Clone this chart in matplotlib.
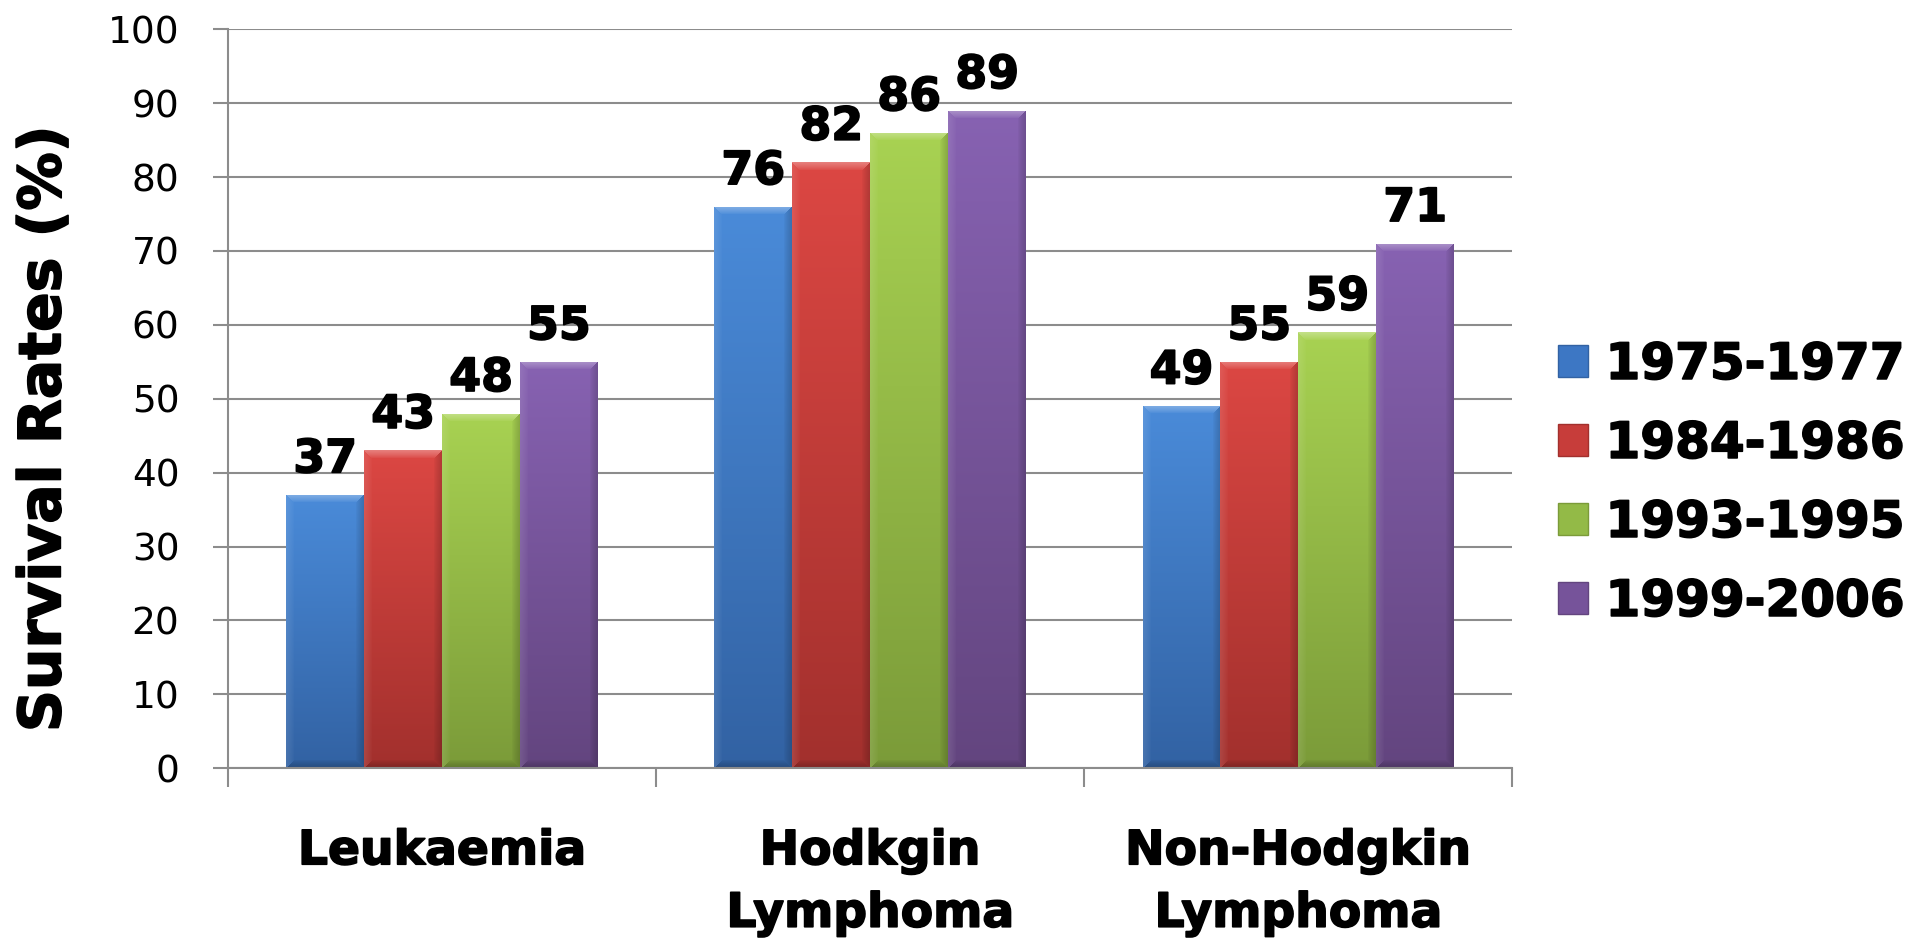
import numpy as np
import matplotlib
matplotlib.use("Agg")
import matplotlib.pyplot as plt
import matplotlib.patheffects as pe
from matplotlib.patches import Patch
from matplotlib.colors import to_rgb

# ---- data -------------------------------------------------------------
categories = ["Leukaemia", "Hodkgin\nLymphoma", "Non-Hodgkin\nLymphoma"]
periods = ["1975-1977", "1984-1986", "1993-1995", "1999-2006"]
rate_1975_1977 = [37, 76, 49]
rate_1984_1986 = [43, 82, 55]
rate_1993_1995 = [48, 86, 59]
rate_1999_2006 = [55, 89, 71]
y_ticks = [0, 10, 20, 30, 40, 50, 60, 70, 80, 90, 100]

series = [rate_1975_1977, rate_1984_1986, rate_1993_1995, rate_1999_2006]

# ---- style ------------------------------------------------------------
top_colors = ["#4a8bd9", "#dc4743", "#a8d252", "#8762b2"]
bottom_colors = ["#3262a3", "#a2302d", "#7b9b39", "#63457f"]
mid_colors = ["#3d77c4", "#c73d3a", "#93ba47", "#76539a"]
grid_color = "#8c8c8c"
heavy = [pe.withStroke(linewidth=1.2, foreground="black")]

plt.rcParams["font.family"] = ["DejaVu Sans"]

fig = plt.figure(figsize=(19.07, 9.46), dpi=100)
ax = fig.add_axes([0.1196, 0.188, 0.6735, 0.781])

n = len(series)
bar_w = 0.182
x = np.arange(len(categories))


def bevel_image(h_px, w_px, c_top, c_bot, bevel=8):
    """RGB image of a bar face: vertical gradient with a soft bevelled rim."""
    h_px = max(int(round(h_px)), 2)
    w_px = max(int(round(w_px)), 2)
    t = np.linspace(0, 1, h_px)[:, None, None]
    img = (1 - t) * np.array(c_top)[None, None, :] + t * np.array(c_bot)[None, None, :]
    img = np.repeat(img, w_px, axis=1)
    yy, xx = np.mgrid[0:h_px, 0:w_px]
    dist = np.stack([yy, xx, w_px - 1 - xx, h_px - 1 - yy])
    edge = dist.argmin(axis=0)
    dmin = dist.min(axis=0)
    strength = np.clip(1 - dmin / bevel, 0, 1) ** 0.8
    # lighten (+) / darken (-) for the top, left, right and bottom rims
    amounts = np.array([0.30, 0.10, -0.18, -0.22])
    a = amounts[edge] * strength
    out = img.copy()
    light = a > 0
    out[light] = img[light] + (1 - img[light]) * a[light][:, None]
    dark = ~light
    out[dark] = img[dark] * (1 + a[dark][:, None])
    return np.clip(out, 0, 1)


ax.set_xlim(-0.5, len(categories) - 0.5)
ax.set_ylim(0, 100)

bar_groups = []
for i, vals in enumerate(series):
    offs = x + (i - (n - 1) / 2) * bar_w
    bars = ax.bar(offs, vals, width=bar_w, color=mid_colors[i],
                  linewidth=0, zorder=2, label=periods[i])
    bar_groups.append(bars)

fig.canvas.draw()
for i, bars in enumerate(bar_groups):
    for b in bars:
        x0, y0 = b.get_x(), b.get_y()
        w, h = b.get_width(), b.get_height()
        p0 = ax.transData.transform((x0, y0))
        p1 = ax.transData.transform((x0 + w, y0 + h))
        img = bevel_image(abs(p1[1] - p0[1]), abs(p1[0] - p0[0]),
                          to_rgb(top_colors[i]), to_rgb(bottom_colors[i]))
        im = ax.imshow(img, extent=(x0, x0 + w, y0, y0 + h), aspect="auto",
                       interpolation="bilinear", zorder=2.5, origin="upper")
        im.set_clip_path(b)

for bars in bar_groups:
    for t in ax.bar_label(bars, padding=9, fontsize=33, fontweight="bold",
                          zorder=4):
        t.set_path_effects(heavy)

ax.set_xlim(-0.5, len(categories) - 0.5)
ax.set_ylim(0, 100)

# axes, grid, ticks
ax.set_axisbelow(True)
ax.yaxis.grid(True, color=grid_color, linewidth=1.5)
ax.set_yticks(y_ticks)
ax.tick_params(axis="y", length=11, width=1.5, color=grid_color,
               labelsize=27, pad=24)
ax.set_xticks(x)
ax.set_xticklabels(categories, fontsize=34, fontweight="bold")
ax.set_xticks(np.arange(len(categories) + 1) - 0.5, minor=True)
ax.tick_params(axis="x", which="major", length=0, pad=44)
ax.tick_params(axis="x", which="minor", length=14, width=1.5, color=grid_color)
for lab in ax.get_xticklabels():
    lab.set_linespacing(1.5)
    lab.set_path_effects(heavy)

for side in ("top", "right"):
    ax.spines[side].set_visible(False)
for side in ("left", "bottom"):
    ax.spines[side].set_color(grid_color)
    ax.spines[side].set_linewidth(1.5)

ylab = fig.text(0.023, 0.547, "Survival Rates (%)", rotation=90, ha="center",
                va="center", fontsize=42, fontweight="bold")
ylab.set_path_effects(heavy)

handles = [Patch(facecolor=mid_colors[i], edgecolor=bottom_colors[i],
                 linewidth=1) for i in range(n)]
leg = fig.legend(handles, periods, loc="center left",
                 bbox_to_anchor=(0.817, 0.489), frameon=False,
                 prop={"size": 36, "weight": "bold"},
                 handlelength=0.6, handleheight=0.6, handletextpad=0.35,
                 labelspacing=0.62, borderpad=0, borderaxespad=0)
for t in leg.get_texts():
    t.set_path_effects(heavy)

fig.savefig("out.png", dpi=100)
